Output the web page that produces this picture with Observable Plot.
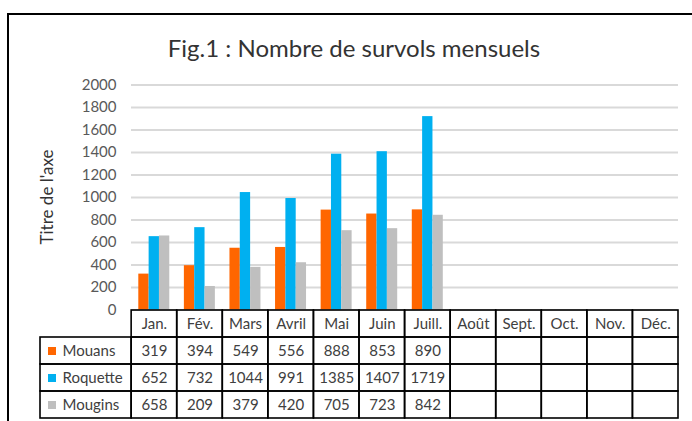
<!DOCTYPE html>
<html><head><meta charset="utf-8">
<script src="https://cdn.jsdelivr.net/npm/d3@7"></script>
<script src="https://cdn.jsdelivr.net/npm/@observablehq/plot@0.6"></script>
<style>
body{margin:0;background:#fff;}
#wrap{position:relative;width:692px;height:421px;overflow:hidden;font-family:Lato,"Liberation Sans",sans-serif;}
#wrap svg{position:absolute;left:0;top:0;background:transparent;}
#frame{position:absolute;left:7px;top:13px;width:800px;height:500px;border-left:2px solid #000;border-top:2px solid #000;}
#title{position:absolute;left:0;width:708px;top:33px;text-align:center;font-size:24px;color:#333;}
#ytitle{position:absolute;left:46px;top:197px;transform:translate(-50%,-50%) rotate(-90deg);font-size:17px;color:#333;white-space:nowrap;}
</style></head>
<body><div id="wrap"><div id="frame"></div><div id="title">Fig.1 : Nombre de survols mensuels</div><div id="ytitle">Titre de l'axe</div></div>
<script>
const months = ["Jan.","Fév.","Mars","Avril","Mai","Juin","Juill.","Août","Sept.","Oct.","Nov.","Déc."];
const series = ["Mouans","Roquette","Mougins"];
const mouans = [319,394,549,556,888,853,890];
const roquette = [652,732,1044,991,1385,1407,1719];
const mougins = [658,209,379,420,705,723,842];
const colors = ["#FF6600","#00B0F0","#BFBFBF"];
const yTicks = [0,200,400,600,800,1000,1200,1400,1600,1800,2000];

const seriesValues = [mouans, roquette, mougins];
const rows = [];
series.forEach((s, si) => seriesValues[si].forEach((v, mi) => rows.push({month: months[mi], series: s, value: v, si, mi})));

// bar geometry within each month band (Excel-style clustered columns)
const step = (692 - 131 - 14) / months.length;
const barW = 10.33;
const outer = (step - barW * series.length) / 2;

const chart = Plot.plot({
  width: 692, height: 330,
  marginTop: 84.5, marginBottom: 20.5, marginLeft: 131, marginRight: 14,
  style: {color: "#595959", fontFamily: "Lato, 'Liberation Sans', sans-serif", fontSize: "15px", background: "transparent"},
  x: {domain: months, padding: 0, round: false, axis: null},
  y: {domain: [0, 2000], axis: null},
  color: {domain: series, range: colors},
  marks: [
    Plot.gridY(yTicks, {stroke: "#D9D9D9", strokeOpacity: 1, strokeWidth: 2}),
    Plot.axisY(yTicks, {tickSize: 0, tickPadding: 15, label: null, fontSize: 15, fill: "#595959", tickFormat: d => String(d)}),
    ...series.map((s, si) => Plot.barY(rows.filter(d => d.si === si), {
      x: "month", y: "value", fill: "series",
      insetLeft: outer + si * barW,
      insetRight: step - outer - (si + 1) * barW
    }))
  ]
});

// data table
const cells = [];
months.forEach((m, i) => {
  cells.push({x1: i + 2, x2: i + 3, y1: 0, y2: 1});
  series.forEach((s, r) => cells.push({x1: i + 2, x2: i + 3, y1: r + 1, y2: r + 2}));
});
series.forEach((s, r) => cells.push({x1: 0, x2: 2, y1: r + 1, y2: r + 2}));
const headerTexts = months.map((m, i) => ({x: i + 2.5, y: 0.5, text: m}));
const valueTexts = rows.map(d => ({x: d.mi + 2.5, y: d.si + 1.5, text: String(d.value)}));
const labelRows = series.map((s, r) => ({x: 0, y: r + 1.5, text: s, color: colors[r]}));

const table = Plot.plot({
  width: 692, height: 421,
  marginTop: 310, marginBottom: 3, marginLeft: 40, marginRight: 14,
  style: {color: "#404040", fontFamily: "Lato, 'Liberation Sans', sans-serif", background: "transparent"},
  x: {domain: [0, 14], axis: null},
  y: {domain: [0, 4], reverse: true, axis: null},
  marks: [
    Plot.rect(cells, {x1: "x1", x2: "x2", y1: "y1", y2: "y2", fill: "none", stroke: "#000", strokeWidth: 1.6}),
    Plot.text(headerTexts, {x: "x", y: "y", text: "text", fontSize: 15, fill: "#404040"}),
    Plot.text(valueTexts, {x: "x", y: "y", text: "text", fontSize: 15, fill: "#404040"}),
    Plot.dot(labelRows, {x: "x", y: "y", dx: 11.5, symbol: "square", r: 4.5, fill: d => d.color, stroke: null}),
    Plot.text(labelRows, {x: "x", y: "y", text: "text", dx: 22, textAnchor: "start", fontSize: 15, fill: "#404040"})
  ]
});

const wrap = document.getElementById("wrap");
wrap.appendChild(chart);
wrap.appendChild(table);
</script>
</body></html>
